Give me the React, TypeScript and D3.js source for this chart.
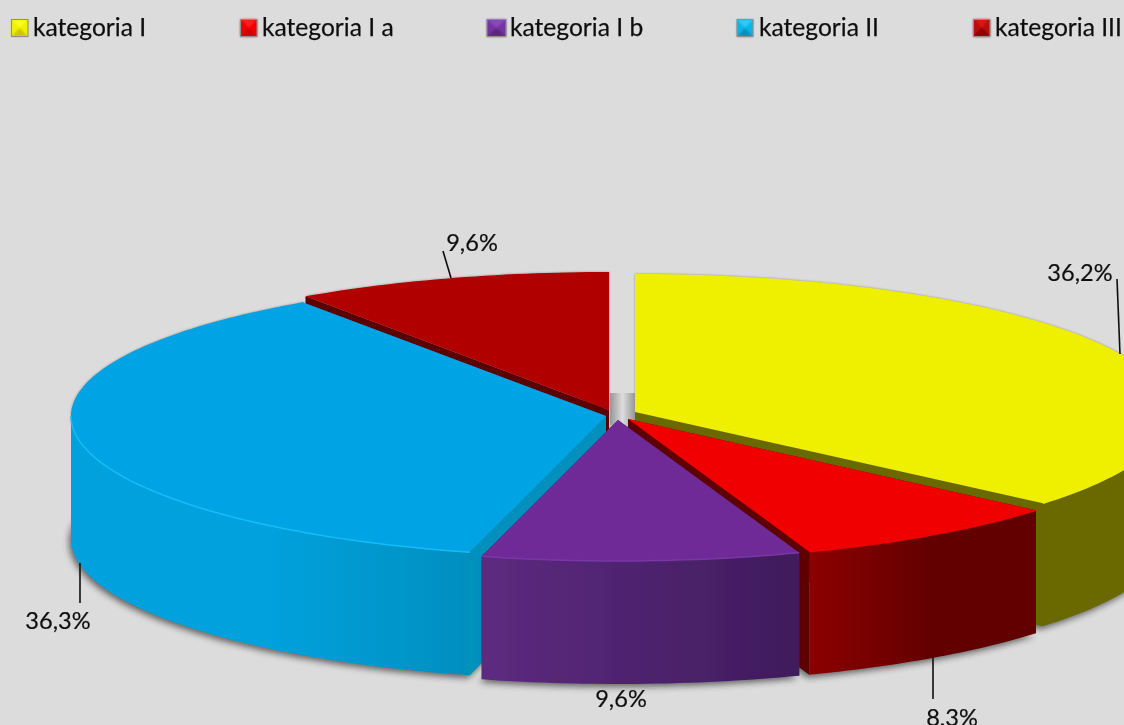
import React from "react";
import * as d3 from "d3";

const categories = ["kategoria I", "kategoria I a", "kategoria I b", "kategoria II", "kategoria III"];
const values = [36.2, 8.3, 9.6, 36.3, 9.6];
const valueLabels = ["36,2%", "8,3%", "9,6%", "36,3%", "9,6%"];

// appearance
const topColors = ["#efef00", "#f00000", "#6f2c97", "#00a3e3", "#b00000"];
const faceColors = ["#6a6900", "#5e0000", "#3f1c5c", "#0090bd", "#5a0000"];
const wallStops = [
  ["#6a6900", "#6a6900"],
  ["#8c0000", "#620000"],
  ["#5d2a80", "#3f1c5c"],
  ["#02a1dd", "#008fbf"],
  ["#5a0000", "#5a0000"],
];
const rimColors = ["#efef00", "#f00000", "#7a36a6", "#17bcf7", "#b00000"];
const swatchTop = ["#fbfb20", "#ff1c1c", "#8a49bb", "#30cbf3", "#d81818"];
const swatchSide = ["#f0f000", "#f00000", "#7434a0", "#10b4e8", "#b80808"];
const swatchBottom = ["#c8c800", "#cc0000", "#5a287f", "#0090bc", "#8a0000"];

// layout
const W = 1124, H = 725;
const rx = 535, ryBack = 138, ryFront = 141, depth = 123;
const sliceX = [635, 628, 618, 606, 609];
const sliceY = [412, 419, 420, 416, 410];
const paintOrder = [4, 0, 3, 1, 2];
const legendX = [11.5, 240.5, 487, 737, 973.5];
const legendWidth = [16.5, 16.5, 19, 16, 16.5];
const legendTop = 19.5, legendHeight = 17;
const legendTextX = [33, 262, 510, 759, 995];
const labelX = [1080, 952, 621, 58, 472];
const labelY = [281, 726, 707, 629, 251];
const leaders: number[][] = [[1117, 279, 1120, 354], [933, 657, 933, 699], [], [80, 563, 80, 603], [443, 251, 451, 278]];

const pie = d3.pie<number>().sort(null).startAngle(0).endAngle(2 * Math.PI);
const arcs = pie(values);
const xUnit = d3.scaleLinear().domain([-1, 1]).range([-rx, rx]);
const yUnit = d3.scaleLinear().domain([-1, 0, 1]).range([ryFront, 0, -ryBack]);
const line = d3.line<[number, number]>();

const rim = (i: number, a: number, dy = 0): [number, number] => [
  sliceX[i] + xUnit(Math.sin(a)),
  sliceY[i] + yUnit(Math.cos(a)) + dy,
];
const samples = (a0: number, a1: number) => {
  const n = Math.max(2, Math.ceil((a1 - a0) / 0.02));
  return d3.range(n + 1).map((k) => a0 + ((a1 - a0) * k) / n);
};
const topPath = (i: number, dy = 0) => {
  const { startAngle: s, endAngle: e } = arcs[i];
  const pts: [number, number][] = [[sliceX[i], sliceY[i] + dy], ...samples(s, e).map((a) => rim(i, a, dy))];
  return line(pts) + "Z";
};
const facePath = (i: number, a: number) => {
  const pts: [number, number][] = [
    [sliceX[i], sliceY[i]],
    rim(i, a),
    rim(i, a, depth),
    [sliceX[i], sliceY[i] + depth],
  ];
  return line(pts) + "Z";
};
const wallRange = (i: number): [number, number] | null => {
  const s = Math.max(arcs[i].startAngle, Math.PI / 2);
  const e = Math.min(arcs[i].endAngle, (3 * Math.PI) / 2);
  return e > s ? [s, e] : null;
};
const wallPath = (i: number) => {
  const r = wallRange(i);
  if (!r) return "";
  const as = samples(r[0], r[1]);
  const pts = [...as.map((a) => rim(i, a)), ...as.slice().reverse().map((a) => rim(i, a, depth))];
  return line(pts) + "Z";
};
const rimPath = (i: number) => {
  const r = wallRange(i);
  return r ? line(samples(r[0], r[1]).map((a) => rim(i, a))) || "" : "";
};

const gapLeft = sliceX[4] + 1;
const gapRight = sliceX[0];
const gapTop = sliceY[0] - 19;
const gapHeight = 32;

// bevelled legend key: four triangles meeting in the middle of the box
const swatchFacets = (i: number) => {
  const x0 = legendX[i], x1 = x0 + legendWidth[i];
  const y0 = legendTop, y1 = y0 + legendHeight;
  const c: [number, number] = [(x0 + x1) / 2, (y0 + y1) / 2];
  const tl: [number, number] = [x0, y0], tr: [number, number] = [x1, y0];
  const br: [number, number] = [x1, y1], bl: [number, number] = [x0, y1];
  return [
    { d: line([tl, tr, c]) + "Z", fill: swatchTop[i] },
    { d: line([tl, bl, c]) + "Z", fill: swatchSide[i] },
    { d: line([tr, br, c]) + "Z", fill: swatchSide[i] },
    { d: line([bl, br, c]) + "Z", fill: swatchBottom[i] },
  ];
};

export default function App() {
  return (
    <svg
      width={W}
      height={H}
      viewBox={`0 0 ${W} ${H}`}
      style={{ position: "absolute", left: 0, top: 0, display: "block" }}
    >
      <defs>
        <filter id="softWide" x="-10%" y="-10%" width="120%" height="120%">
          <feGaussianBlur stdDeviation="3" />
        </filter>
        <filter id="softThin" x="-10%" y="-10%" width="120%" height="120%">
          <feGaussianBlur stdDeviation="1" />
        </filter>
        <filter id="allSoft" filterUnits="userSpaceOnUse" x={0} y={0} width={W} height={H}>
          <feGaussianBlur stdDeviation="0.45" />
        </filter>
        <filter id="keySoft" x="-20%" y="-20%" width="140%" height="140%">
          <feGaussianBlur stdDeviation="0.9" />
        </filter>
        <linearGradient id="gapGrad">
          <stop offset="0" stopColor="#969696" />
          <stop offset="0.5" stopColor="#dddddd" />
          <stop offset="1" stopColor="#969696" />
        </linearGradient>
        {arcs.map((_, i) => {
          const r = wallRange(i);
          if (!r) return null;
          const xa = rim(i, r[0])[0];
          const xb = rim(i, r[1])[0];
          return (
            <linearGradient key={i} id={`wall${i}`} gradientUnits="userSpaceOnUse" x1={Math.min(xa, xb)} x2={Math.max(xa, xb)} y1={0} y2={0}>
              <stop offset="0" stopColor={wallStops[i][0]} />
              {i === 3 ? <stop offset="0.5" stopColor={wallStops[i][0]} /> : null}
              <stop offset={i === 1 ? 0.55 : 1} stopColor={wallStops[i][1]} />
              <stop offset="1" stopColor={wallStops[i][1]} />
            </linearGradient>
          );
        })}
      </defs>

      <rect width={W} height={H} fill="#dcdcdc" />

      <g filter="url(#allSoft)">
        {/* legend */}
        {categories.map((c, i) => (
          <g key={c}>
            <rect x={legendX[i]} y={legendTop} width={legendWidth[i]} height={legendHeight} fill={swatchSide[i]} />
            <g filter="url(#keySoft)">
              {swatchFacets(i).map((f, k) => (
                <path key={k} d={f.d} fill={f.fill} />
              ))}
            </g>
            <rect x={legendX[i]} y={legendTop} width={legendWidth[i]} height={legendHeight} fill="none" stroke="#8f8f8f" strokeWidth={1.1} />
            <text x={legendTextX[i]} y={36} fontFamily="Lato, Carlito, sans-serif" fontSize={24.6} fill="#111" stroke="#111" strokeWidth={0.25}>
              {c}
            </text>
          </g>
        ))}

        {/* soft shadow under the pie */}
        <g fill="#3c3c3c" opacity={0.75} filter="url(#softWide)" transform="translate(-2,3)">
          {arcs.map((_, i) => (
            <path key={i} d={topPath(i, depth)} />
          ))}
        </g>
        <g fill="#555" opacity={0.55} filter="url(#softThin)">
          {arcs.map((_, i) => (
            <path key={i} d={topPath(i)} />
          ))}
        </g>

        {/* centre gap */}
        <rect x={gapLeft} y={gapTop} width={gapRight - gapLeft} height={gapHeight} fill="url(#gapGrad)" />

        {/* slices, back to front */}
        {paintOrder.map((i) => (
          <g key={i}>
            <path d={facePath(i, arcs[i].startAngle)} fill={faceColors[i]} />
            <path d={facePath(i, arcs[i].endAngle)} fill={faceColors[i]} />
            <path d={wallPath(i)} fill={`url(#wall${i})`} />
            <path d={topPath(i)} fill={topColors[i]} />
            <path d={rimPath(i)} fill="none" stroke={rimColors[i]} strokeWidth={1.5} />
          </g>
        ))}

        {/* leaders and value labels */}
        {leaders.map((l, i) =>
          l.length ? <line key={i} x1={l[0]} y1={l[1]} x2={l[2]} y2={l[3]} stroke="#111" strokeWidth={1.6} /> : null
        )}
        {valueLabels.map((t, i) => (
          <text key={i} x={labelX[i]} y={labelY[i]} textAnchor="middle" fontFamily="Lato, Carlito, sans-serif" fontSize={23.6} fill="#111" stroke="#111" strokeWidth={0.2}>
            {t}
          </text>
        ))}
      </g>
    </svg>
  );
}
